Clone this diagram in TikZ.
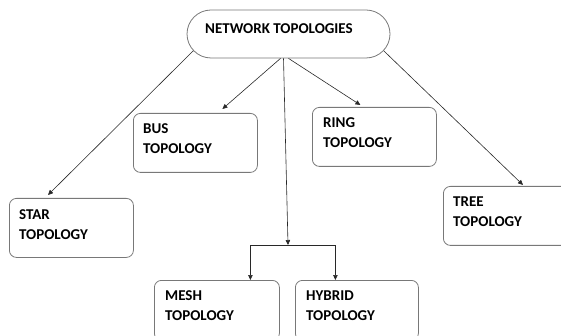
\documentclass[tikz,border=0pt]{standalone}
\usepackage{fontspec}
\setmainfont{Carlito}
\usetikzlibrary{shapes.misc,arrows.meta}
\definecolor{boxgray}{RGB}{120,120,120}
\definecolor{linegray}{RGB}{40,40,40}
\begin{document}
\begin{tikzpicture}[x=1pt,y=-1pt,
  box/.style={draw=boxgray, rounded corners=7pt, line width=0.8pt, minimum height=59pt, inner sep=0pt, anchor=north west},
  lbl/.style={font=\fontsize{15}{20}\selectfont\bfseries, align=left, inner sep=0pt, anchor=west},
  arr/.style={-{Triangle[length=5pt,width=4.5pt]}, line width=0.6pt, draw=linegray},
]
\useasboundingbox (0,0) rectangle (561,336);
% root
\node[draw=boxgray, line width=0.8pt, rounded rectangle, minimum width=203pt, minimum height=48pt, inner sep=0pt] (root) at (288.5,34) {};
\node[lbl] (rootT) at (205,29) {NETWORK TOPOLOGIES};
% boxes
\node[box, minimum width=124pt] (star) at (9,198) {};
\node[lbl] (starT) at (19,225) {STAR\\TOPOLOGY};
\node[box, minimum width=124pt] (bus) at (133,113) {};
\node[lbl] (busT) at (143,139) {BUS\\TOPOLOGY};
\node[box, minimum width=124pt] (ring) at (312,107) {};
\node[lbl] (ringT) at (323,133) {RING\\TOPOLOGY};
\node[box, minimum width=140pt] (tree) at (443,186) {};
\node[lbl] (treeT) at (453,212) {TREE\\TOPOLOGY};
\node[box, minimum width=125pt, minimum height=60pt] (mesh) at (154,280) {};
\node[lbl] (meshT) at (165,306) {MESH\\TOPOLOGY};
\node[box, minimum width=123pt, minimum height=60pt] (hybrid) at (295,280) {};
\node[lbl] (hybridT) at (306,306) {HYBRID\\TOPOLOGY};
% connectors
\coordinate (j) at (288,245);
\draw[arr] (root.190) -- ([xshift=39pt,yshift=3pt]star.north west);
\draw[arr] ([xshift=-8pt]root.south) -- ([xshift=27pt,yshift=4pt]bus.north);
\draw[arr] ([xshift=-5pt]root.south) -- (j);
\draw[arr] (root.south) -- ([xshift=-14pt,yshift=2pt]ring.north);
\draw[arr] (root.-10) -- ([xshift=80pt,yshift=1pt]tree.north west);
\draw[arr] (j) -| ([xshift=33.5pt]mesh.north);
\draw[arr] (j) -| ([xshift=-21.5pt]hybrid.north);
\end{tikzpicture}
\end{document}
